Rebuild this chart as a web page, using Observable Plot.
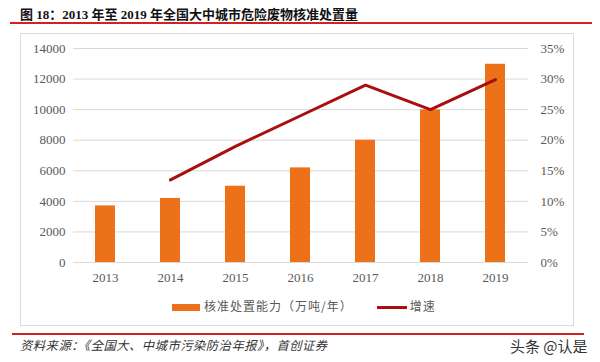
<!DOCTYPE html>
<html><head><meta charset="utf-8">
<script src="https://cdn.jsdelivr.net/npm/d3@7"></script>
<script src="https://cdn.jsdelivr.net/npm/@observablehq/plot@0.6"></script>
<style>
body{margin:0;background:#fff;}
#wrap{position:relative;width:600px;height:362px;overflow:hidden;font-family:"Liberation Serif","Noto Sans CJK SC",serif;}
#title{position:absolute;left:20px;top:4px;font-size:13px;font-weight:bold;color:#111;white-space:nowrap;}
.rl{position:absolute;height:2px;background:#d42020;}
#frame{position:absolute;left:20px;top:33px;width:552px;height:291px;border:1px solid #dcdcdc;}
#chart{position:absolute;left:0;top:0;}
#legend{position:absolute;top:297px;left:172px;font-family:"Noto Sans CJK SC",sans-serif;font-size:12px;color:#595959;white-space:nowrap;letter-spacing:1px;}
#legend span.sw{display:inline-block;vertical-align:middle;}
#src{position:absolute;left:20px;top:336px;font-family:"Noto Sans CJK SC",sans-serif;font-size:12.3px;font-style:italic;color:#333;white-space:nowrap;letter-spacing:0.5px;}
#wm{position:absolute;left:510px;top:335px;font-family:"Noto Sans CJK SC",sans-serif;font-size:15px;color:#333;white-space:nowrap;}
</style></head>
<body><div id="wrap">
<div id="title">图 18：2013 年至 2019 年全国大中城市危险废物核准处置量</div>
<div class="rl" style="left:10px;top:22px;width:582px;"></div>
<div id="frame"></div>
<div id="chart"></div>
<div id="legend"><span class="sw" style="width:28px;height:7px;background:#EC7119;margin-right:4px;"></span>核准处置能力（万吨/年）<span class="sw" style="width:30px;height:3px;background:#A80F0F;margin-left:24px;margin-right:3px;"></span>增速</div>
<div class="rl" style="left:12px;top:333px;width:572px;"></div>
<div id="src">资料来源：《全国大、中城市污染防治年报》，首创证券</div>
<div id="wm">头条 @认是</div>
</div>
<script>
const years = ["2013","2014","2015","2016","2017","2018","2019"];
const capacity = [3700, 4190, 4990, 6190, 8000, 9980, 12970];
const growthYears = ["2014","2015","2016","2017","2018","2019"];
const growth = [13.5, 19.0, 24.0, 29.0, 25.0, 29.9];
const leftTicks = [0,2000,4000,6000,8000,10000,12000,14000];
const rightTicks = [0,5,10,15,20,25,30,35];

const yMax = 14000, pMax = 35, k = yMax / pMax;
const bars = years.map((y,i)=>({year:y, value:capacity[i]}));
const line = growthYears.map((y,i)=>({year:y, g:growth[i]*k}));

const chart = Plot.plot({
  width:600, height:362,
  marginTop:48, marginBottom:100, marginLeft:73, marginRight:72,
  style:{background:"transparent", fontFamily:"Liberation Serif, serif", fontSize:"13px", color:"#595959"},
  x:{domain:years, paddingInner:0.69, paddingOuter:0.345, label:null},
  y:{domain:[0,yMax], label:null},
  marks:[
    Plot.ruleY(leftTicks, {stroke:"#d9d9d9", strokeWidth:1}),
    Plot.barY(bars, {x:"year", y:"value", fill:"#EC7119"}),
    Plot.line(line, {x:"year", y:"g", stroke:"#A80F0F", strokeWidth:3}),
    Plot.axisY({ticks:leftTicks, tickSize:0, tickPadding:8, label:null, tickFormat:d=>String(d)}),
    Plot.axisY({anchor:"right", ticks:rightTicks.map(p=>p*k), tickSize:0, tickPadding:12, label:null, tickFormat:d=>Math.round(d/k)+"%"}),
    Plot.axisX({tickSize:0, tickPadding:10, label:null})
  ]
});
document.getElementById("chart").appendChild(chart);
</script>
</body></html>
